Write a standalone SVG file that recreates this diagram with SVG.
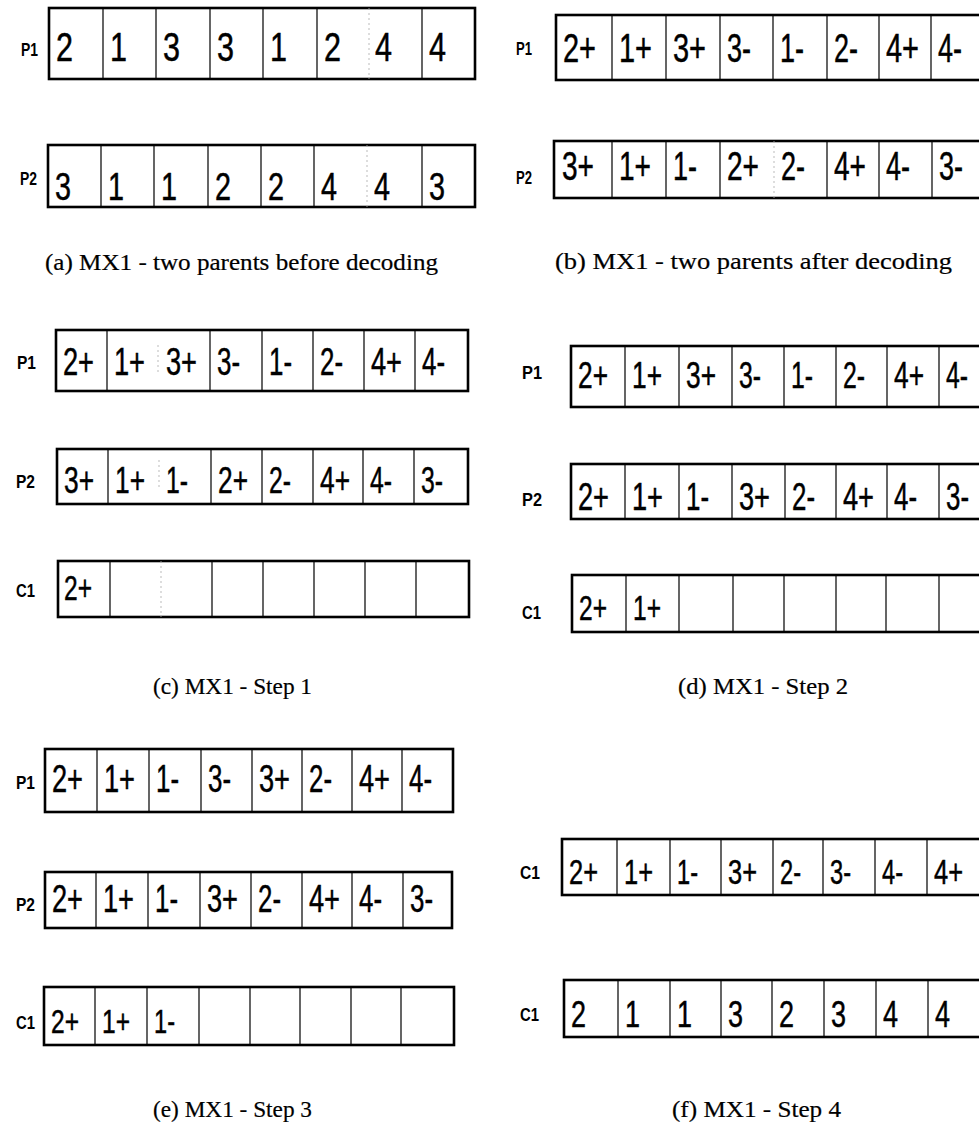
<svg xmlns="http://www.w3.org/2000/svg" width="979" height="1124" viewBox="0 0 979 1124">
<style>
.box{fill:#fff;stroke:#000;stroke-width:2.6}
.dv{stroke:#000;stroke-width:1.2}
.fd{stroke:#aaa;stroke-width:0.8;stroke-dasharray:2 3}
.v{font-family:"Liberation Sans",Arial,sans-serif;fill:#000;stroke:#000;stroke-width:0.5}
.lbl{font-family:"Liberation Sans",Arial,sans-serif;font-weight:bold;font-size:19px;fill:#000}
.cap{font-family:"Liberation Serif","Times New Roman",serif;font-size:23px;fill:#000;stroke:#000;stroke-width:0.2}
</style>
<rect width="979" height="1124" fill="#fff"/>

<g id="a-p1">
<text class="lbl" x="21" y="56" textLength="17" lengthAdjust="spacingAndGlyphs">P1</text>
<rect class="box" x="49" y="8" width="426" height="71"/>
<path class="dv" d="M103 8V79M156 8V79M210 8V79M263 8V79M317 8V79M422 8V79"/>
<path class="fd" d="M369 8V79"/>
<g class="v" font-size="40">
<text x="56" y="61" textLength="17" lengthAdjust="spacingAndGlyphs">2</text>
<text x="110" y="61" textLength="17" lengthAdjust="spacingAndGlyphs">1</text>
<text x="163" y="61" textLength="17" lengthAdjust="spacingAndGlyphs">3</text>
<text x="217" y="61" textLength="17" lengthAdjust="spacingAndGlyphs">3</text>
<text x="270" y="61" textLength="17" lengthAdjust="spacingAndGlyphs">1</text>
<text x="324" y="61" textLength="17" lengthAdjust="spacingAndGlyphs">2</text>
<text x="375" y="61" textLength="17" lengthAdjust="spacingAndGlyphs">4</text>
<text x="429" y="61" textLength="17" lengthAdjust="spacingAndGlyphs">4</text>
</g>
</g>

<g id="a-p2">
<text class="lbl" x="20" y="185" textLength="17" lengthAdjust="spacingAndGlyphs">P2</text>
<rect class="box" x="48" y="145" width="427" height="62"/>
<path class="dv" d="M101 145V207M154 145V207M208 145V207M261 145V207M314 145V207M422 145V207"/>
<path class="fd" d="M367 145V207"/>
<g class="v" font-size="38">
<text x="55" y="200" textLength="16" lengthAdjust="spacingAndGlyphs">3</text>
<text x="108" y="200" textLength="16" lengthAdjust="spacingAndGlyphs">1</text>
<text x="161" y="200" textLength="16" lengthAdjust="spacingAndGlyphs">1</text>
<text x="215" y="200" textLength="16" lengthAdjust="spacingAndGlyphs">2</text>
<text x="268" y="200" textLength="16" lengthAdjust="spacingAndGlyphs">2</text>
<text x="321" y="200" textLength="16" lengthAdjust="spacingAndGlyphs">4</text>
<text x="374" y="200" textLength="16" lengthAdjust="spacingAndGlyphs">4</text>
<text x="429" y="200" textLength="16" lengthAdjust="spacingAndGlyphs">3</text>
</g>
</g>

<g id="b-p1">
<text class="lbl" x="516" y="55" textLength="16" lengthAdjust="spacingAndGlyphs">P1</text>
<rect class="box" x="556" y="15" width="434" height="65"/>
<path class="dv" d="M612 15V80M666 15V80M720 15V80M773 15V80M827 15V80M879 15V80M931 15V80"/>
<g class="v" font-size="41">
<text x="563" y="62" textLength="33" lengthAdjust="spacingAndGlyphs">2+</text>
<text x="619" y="62" textLength="33" lengthAdjust="spacingAndGlyphs">1+</text>
<text x="673" y="62" textLength="33" lengthAdjust="spacingAndGlyphs">3+</text>
<text x="727" y="62" textLength="24" lengthAdjust="spacingAndGlyphs">3-</text>
<text x="780" y="62" textLength="24" lengthAdjust="spacingAndGlyphs">1-</text>
<text x="834" y="62" textLength="24" lengthAdjust="spacingAndGlyphs">2-</text>
<text x="886" y="62" textLength="33" lengthAdjust="spacingAndGlyphs">4+</text>
<text x="938" y="62" textLength="24" lengthAdjust="spacingAndGlyphs">4-</text>
</g>
</g>

<g id="b-p2">
<text class="lbl" x="516" y="184" textLength="16" lengthAdjust="spacingAndGlyphs">P2</text>
<rect class="box" x="554" y="141" width="436" height="57"/>
<path class="dv" d="M612 141V198M666 141V198M720 141V198M827 141V198M879 141V198M932 141V198"/>
<path class="fd" d="M774 141V198"/>
<g class="v" font-size="40">
<text x="562" y="180" textLength="32" lengthAdjust="spacingAndGlyphs">3+</text>
<text x="619" y="180" textLength="32" lengthAdjust="spacingAndGlyphs">1+</text>
<text x="673" y="180" textLength="24" lengthAdjust="spacingAndGlyphs">1-</text>
<text x="727" y="180" textLength="32" lengthAdjust="spacingAndGlyphs">2+</text>
<text x="781" y="180" textLength="24" lengthAdjust="spacingAndGlyphs">2-</text>
<text x="834" y="180" textLength="32" lengthAdjust="spacingAndGlyphs">4+</text>
<text x="886" y="180" textLength="24" lengthAdjust="spacingAndGlyphs">4-</text>
<text x="939" y="180" textLength="24" lengthAdjust="spacingAndGlyphs">3-</text>
</g>
</g>

<text class="cap" x="45" y="270" textLength="393" lengthAdjust="spacingAndGlyphs">(a)  MX1 - two parents before decoding</text>
<text class="cap" x="555" y="269" textLength="397" lengthAdjust="spacingAndGlyphs">(b)  MX1 - two parents after decoding</text>

<g id="c-p1">
<text class="lbl" x="17" y="369" textLength="19" lengthAdjust="spacingAndGlyphs">P1</text>
<rect class="box" x="56" y="330" width="412" height="61"/>
<path class="dv" d="M107 330V391M210 330V391M262 330V391M313 330V391M364 330V391M415 330V391"/>
<path class="fd" d="M158 345V375"/>
<g class="v" font-size="38">
<text x="63" y="375" textLength="31" lengthAdjust="spacingAndGlyphs">2+</text>
<text x="114" y="375" textLength="31" lengthAdjust="spacingAndGlyphs">1+</text>
<text x="166" y="375" textLength="31" lengthAdjust="spacingAndGlyphs">3+</text>
<text x="217" y="375" textLength="23" lengthAdjust="spacingAndGlyphs">3-</text>
<text x="269" y="375" textLength="23" lengthAdjust="spacingAndGlyphs">1-</text>
<text x="320" y="375" textLength="23" lengthAdjust="spacingAndGlyphs">2-</text>
<text x="371" y="375" textLength="31" lengthAdjust="spacingAndGlyphs">4+</text>
<text x="422" y="375" textLength="23" lengthAdjust="spacingAndGlyphs">4-</text>
</g>
</g>

<g id="c-p2">
<text class="lbl" x="16" y="488" textLength="19" lengthAdjust="spacingAndGlyphs">P2</text>
<rect class="box" x="57" y="449" width="411" height="55"/>
<path class="dv" d="M108 449V504M211 449V504M262 449V504M313 449V504M363 449V504M414 449V504"/>
<path class="fd" d="M159 460V490"/>
<g class="v" font-size="36">
<text x="64" y="493" textLength="30" lengthAdjust="spacingAndGlyphs">3+</text>
<text x="115" y="493" textLength="30" lengthAdjust="spacingAndGlyphs">1+</text>
<text x="166" y="493" textLength="22" lengthAdjust="spacingAndGlyphs">1-</text>
<text x="218" y="493" textLength="30" lengthAdjust="spacingAndGlyphs">2+</text>
<text x="269" y="493" textLength="22" lengthAdjust="spacingAndGlyphs">2-</text>
<text x="320" y="493" textLength="30" lengthAdjust="spacingAndGlyphs">4+</text>
<text x="370" y="493" textLength="22" lengthAdjust="spacingAndGlyphs">4-</text>
<text x="421" y="493" textLength="22" lengthAdjust="spacingAndGlyphs">3-</text>
</g>
</g>

<g id="c-c1">
<text class="lbl" x="16" y="597" textLength="19" lengthAdjust="spacingAndGlyphs">C1</text>
<rect class="box" x="58" y="561" width="411" height="56"/>
<path class="dv" d="M110 561V617M212 561V617M263 561V617M314 561V617M365 561V617M416 561V617"/>
<path class="fd" d="M161 561V617"/>
<g class="v" font-size="35">
<text x="64" y="600" textLength="28" lengthAdjust="spacingAndGlyphs">2+</text>
</g>
</g>

<g id="d-p1">
<text class="lbl" x="522" y="379" textLength="20" lengthAdjust="spacingAndGlyphs">P1</text>
<rect class="box" x="571" y="346" width="420" height="61"/>
<path class="dv" d="M625 346V407M679 346V407M732 346V407M784 346V407M836 346V407M887 346V407M939 346V407"/>
<g class="v" font-size="36">
<text x="578" y="388" textLength="30" lengthAdjust="spacingAndGlyphs">2+</text>
<text x="632" y="388" textLength="30" lengthAdjust="spacingAndGlyphs">1+</text>
<text x="686" y="388" textLength="30" lengthAdjust="spacingAndGlyphs">3+</text>
<text x="739" y="388" textLength="22" lengthAdjust="spacingAndGlyphs">3-</text>
<text x="791" y="388" textLength="22" lengthAdjust="spacingAndGlyphs">1-</text>
<text x="843" y="388" textLength="22" lengthAdjust="spacingAndGlyphs">2-</text>
<text x="894" y="388" textLength="30" lengthAdjust="spacingAndGlyphs">4+</text>
<text x="946" y="388" textLength="22" lengthAdjust="spacingAndGlyphs">4-</text>
</g>
</g>

<g id="d-p2">
<text class="lbl" x="522" y="506" textLength="20" lengthAdjust="spacingAndGlyphs">P2</text>
<rect class="box" x="571" y="464" width="420" height="55"/>
<path class="dv" d="M625 464V519M679 464V519M732 464V519M785 464V519M836 464V519M887 464V519M939 464V519"/>
<g class="v" font-size="38">
<text x="578" y="510" textLength="31" lengthAdjust="spacingAndGlyphs">2+</text>
<text x="632" y="510" textLength="31" lengthAdjust="spacingAndGlyphs">1+</text>
<text x="686" y="510" textLength="23" lengthAdjust="spacingAndGlyphs">1-</text>
<text x="739" y="510" textLength="31" lengthAdjust="spacingAndGlyphs">3+</text>
<text x="792" y="510" textLength="23" lengthAdjust="spacingAndGlyphs">2-</text>
<text x="843" y="510" textLength="31" lengthAdjust="spacingAndGlyphs">4+</text>
<text x="894" y="510" textLength="23" lengthAdjust="spacingAndGlyphs">4-</text>
<text x="946" y="510" textLength="23" lengthAdjust="spacingAndGlyphs">3-</text>
</g>
</g>

<g id="d-c1">
<text class="lbl" x="522" y="619" textLength="19" lengthAdjust="spacingAndGlyphs">C1</text>
<rect class="box" x="572" y="575" width="419" height="57"/>
<path class="dv" d="M626 575V632M679 575V632M733 575V632M784 575V632M836 575V632M886 575V632M939 575V632"/>
<g class="v" font-size="35">
<text x="579" y="620" textLength="28" lengthAdjust="spacingAndGlyphs">2+</text>
<text x="633" y="620" textLength="28" lengthAdjust="spacingAndGlyphs">1+</text>
</g>
</g>

<text class="cap" x="153" y="694" textLength="159" lengthAdjust="spacingAndGlyphs">(c)  MX1 - Step 1</text>
<text class="cap" x="678" y="694" textLength="170" lengthAdjust="spacingAndGlyphs">(d)  MX1 - Step 2</text>

<g id="e-p1">
<text class="lbl" x="16" y="789" textLength="19" lengthAdjust="spacingAndGlyphs">P1</text>
<rect class="box" x="45" y="749" width="408" height="63"/>
<path class="dv" d="M97 749V812M149 749V812M201 749V812M252 749V812M302 749V812M352 749V812M402 749V812"/>
<g class="v" font-size="38">
<text x="52" y="792" textLength="31" lengthAdjust="spacingAndGlyphs">2+</text>
<text x="104" y="792" textLength="31" lengthAdjust="spacingAndGlyphs">1+</text>
<text x="156" y="792" textLength="23" lengthAdjust="spacingAndGlyphs">1-</text>
<text x="208" y="792" textLength="23" lengthAdjust="spacingAndGlyphs">3-</text>
<text x="259" y="792" textLength="31" lengthAdjust="spacingAndGlyphs">3+</text>
<text x="309" y="792" textLength="23" lengthAdjust="spacingAndGlyphs">2-</text>
<text x="359" y="792" textLength="31" lengthAdjust="spacingAndGlyphs">4+</text>
<text x="409" y="792" textLength="23" lengthAdjust="spacingAndGlyphs">4-</text>
</g>
</g>

<g id="e-p2">
<text class="lbl" x="16" y="911" textLength="19" lengthAdjust="spacingAndGlyphs">P2</text>
<rect class="box" x="45" y="872" width="407" height="56"/>
<path class="dv" d="M96 872V928M148 872V928M200 872V928M251 872V928M302 872V928M352 872V928M403 872V928"/>
<g class="v" font-size="38">
<text x="52" y="912" textLength="31" lengthAdjust="spacingAndGlyphs">2+</text>
<text x="103" y="912" textLength="31" lengthAdjust="spacingAndGlyphs">1+</text>
<text x="155" y="912" textLength="23" lengthAdjust="spacingAndGlyphs">1-</text>
<text x="207" y="912" textLength="31" lengthAdjust="spacingAndGlyphs">3+</text>
<text x="258" y="912" textLength="23" lengthAdjust="spacingAndGlyphs">2-</text>
<text x="309" y="912" textLength="31" lengthAdjust="spacingAndGlyphs">4+</text>
<text x="359" y="912" textLength="23" lengthAdjust="spacingAndGlyphs">4-</text>
<text x="410" y="912" textLength="23" lengthAdjust="spacingAndGlyphs">3-</text>
</g>
</g>

<g id="e-c1">
<text class="lbl" x="16" y="1029" textLength="19" lengthAdjust="spacingAndGlyphs">C1</text>
<rect class="box" x="44" y="987" width="410" height="58"/>
<path class="dv" d="M95 987V1045M147 987V1045M199 987V1045M250 987V1045M300 987V1045M351 987V1045M401 987V1045"/>
<g class="v" font-size="34">
<text x="51" y="1033" textLength="28" lengthAdjust="spacingAndGlyphs">2+</text>
<text x="102" y="1033" textLength="28" lengthAdjust="spacingAndGlyphs">1+</text>
<text x="154" y="1033" textLength="21" lengthAdjust="spacingAndGlyphs">1-</text>
</g>
</g>

<g id="f-c1a">
<text class="lbl" x="520" y="879" textLength="20" lengthAdjust="spacingAndGlyphs">C1</text>
<rect class="box" x="562" y="839" width="428" height="56"/>
<path class="dv" d="M617 839V895M670 839V895M721 839V895M773 839V895M823 839V895M875 839V895M927 839V895"/>
<g class="v" font-size="35">
<text x="569" y="884" textLength="29" lengthAdjust="spacingAndGlyphs">2+</text>
<text x="624" y="884" textLength="29" lengthAdjust="spacingAndGlyphs">1+</text>
<text x="677" y="884" textLength="21" lengthAdjust="spacingAndGlyphs">1-</text>
<text x="728" y="884" textLength="29" lengthAdjust="spacingAndGlyphs">3+</text>
<text x="780" y="884" textLength="21" lengthAdjust="spacingAndGlyphs">2-</text>
<text x="830" y="884" textLength="21" lengthAdjust="spacingAndGlyphs">3-</text>
<text x="882" y="884" textLength="21" lengthAdjust="spacingAndGlyphs">4-</text>
<text x="934" y="884" textLength="29" lengthAdjust="spacingAndGlyphs">4+</text>
</g>
</g>

<g id="f-c1b">
<text class="lbl" x="520" y="1021" textLength="19" lengthAdjust="spacingAndGlyphs">C1</text>
<rect class="box" x="564" y="980" width="426" height="57"/>
<path class="dv" d="M618 980V1037M670 980V1037M721 980V1037M772 980V1037M824 980V1037M876 980V1037M928 980V1037"/>
<g class="v" font-size="36">
<text x="571" y="1027" textLength="15" lengthAdjust="spacingAndGlyphs">2</text>
<text x="625" y="1027" textLength="15" lengthAdjust="spacingAndGlyphs">1</text>
<text x="677" y="1027" textLength="15" lengthAdjust="spacingAndGlyphs">1</text>
<text x="728" y="1027" textLength="15" lengthAdjust="spacingAndGlyphs">3</text>
<text x="779" y="1027" textLength="15" lengthAdjust="spacingAndGlyphs">2</text>
<text x="831" y="1027" textLength="15" lengthAdjust="spacingAndGlyphs">3</text>
<text x="883" y="1027" textLength="15" lengthAdjust="spacingAndGlyphs">4</text>
<text x="935" y="1027" textLength="15" lengthAdjust="spacingAndGlyphs">4</text>
</g>
</g>

<text class="cap" x="153" y="1117" textLength="159" lengthAdjust="spacingAndGlyphs">(e)  MX1 - Step 3</text>
<text class="cap" x="672" y="1117" textLength="169" lengthAdjust="spacingAndGlyphs">(f)  MX1 - Step 4</text>
</svg>
